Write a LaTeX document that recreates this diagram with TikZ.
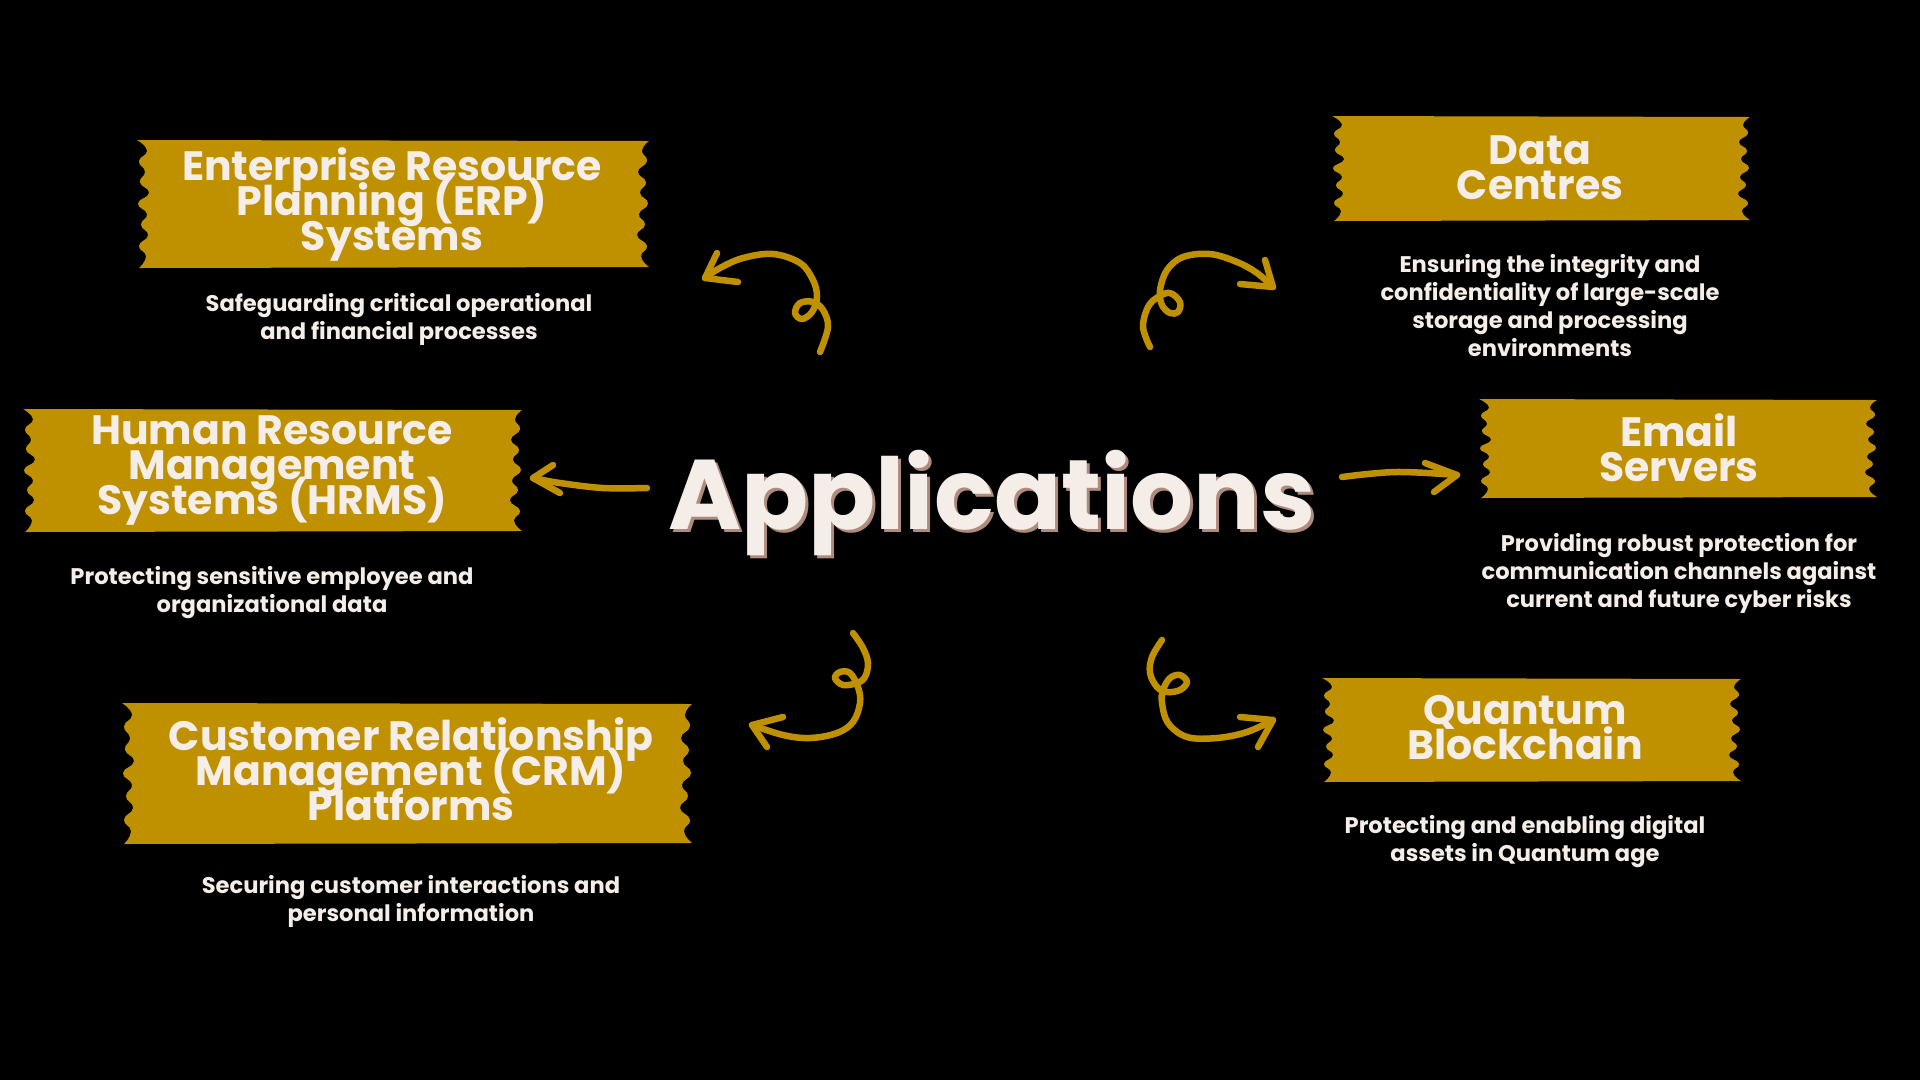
\documentclass[tikz,border=0pt]{standalone}
\usepackage{fontspec}
\setmainfont{Poppins}
\definecolor{gold}{HTML}{BF9000}
\definecolor{cream}{HTML}{F5EDE7}
\definecolor{shade}{HTML}{AE8B7D}
\newcommand\tightlines{\lineskiplimit=-100pt\relax\lineskip=0pt\relax}
\tikzset{
  tapefill/.style={fill=gold},
  bannertext/.style={text=cream, align=center, inner sep=0pt, font=\fontsize{41}{35}\selectfont\bfseries, execute at begin node=\tightlines},
  desc/.style={text=cream, align=center, inner sep=0pt, font=\fontsize{22.6}{28}\selectfont\bfseries, execute at begin node=\tightlines},
  titletext/.style={text=cream, inner sep=0pt, font=\fontsize{99}{100}\selectfont\bfseries},
  titleshadow/.style={text=shade, inner sep=0pt, font=\fontsize{99}{100}\selectfont\bfseries},
  arr/.style={draw=gold, line width=6.5pt, line cap=round, line join=round}
}
\newcommand\tape[4]{%
\fill[tapefill] (#1,#2) -- (#3,{#2+1})
 -- plot[smooth,tension=.9] coordinates {(#3,{#2+1}) ({#3-7},{#2+(#4-#2)/12}) ({#3-2},{#2+2*(#4-#2)/12}) ({#3-11},{#2+3*(#4-#2)/12}) ({#3-3},{#2+4*(#4-#2)/12}) ({#3-9},{#2+5*(#4-#2)/12}) ({#3-1},{#2+6*(#4-#2)/12}) ({#3-10},{#2+7*(#4-#2)/12}) ({#3-4},{#2+8*(#4-#2)/12}) ({#3-12},{#2+9*(#4-#2)/12}) ({#3-2},{#2+10*(#4-#2)/12}) ({#3-8},{#2+11*(#4-#2)/12}) (#3,#4)}
 -- ({#1+2},{#4+1})
 -- plot[smooth,tension=.9] coordinates {({#1+2},{#4+1}) ({#1+9},{#4-(#4-#2)/12}) ({#1+2},{#4-2*(#4-#2)/12}) ({#1+11},{#4-3*(#4-#2)/12}) ({#1+4},{#4-4*(#4-#2)/12}) ({#1+10},{#4-5*(#4-#2)/12}) ({#1+1},{#4-6*(#4-#2)/12}) ({#1+12},{#4-7*(#4-#2)/12}) ({#1+3},{#4-8*(#4-#2)/12}) ({#1+8},{#4-9*(#4-#2)/12}) ({#1+2},{#4-10*(#4-#2)/12}) ({#1+10},{#4-11*(#4-#2)/12}) (#1,#2)}
 -- cycle;}
\begin{document}
\begin{tikzpicture}[x=1pt,y=-1pt]
\fill[black] (0,0) rectangle (1920,1080);
\useasboundingbox (0,0) rectangle (1920,1080);

% tapes
\tape{137}{140}{649}{267}
\tape{1332}{116}{1750}{220}
\tape{23}{409}{522}{531}
\tape{1479}{399}{1877}{497}
\tape{122}{703}{692}{843}
\tape{1322}{678}{1741}{781}

% banner titles
\node[bannertext] (erp) at (392,205) {Enterprise Resource\\Planning (ERP)\\Systems};
\node[bannertext] (dc) at (1540,168) {Data\\Centres};
\node[bannertext] (hrms) at (272,471) {Human Resource\\Management\\Systems (HRMS)};
\node[bannertext] (email) at (1679,448) {Email\\Servers};
\node[bannertext] (crm) at (411,769) {Customer Relationship\\Management (CRM)\\Platforms};
\node[bannertext] (qb) at (1525,728) {Quantum\\Blockchain};

% descriptions
\node[desc] (erpd) at (399,319) {Safeguarding critical operational\\and financial processes};
\node[desc] (dcd) at (1550,306) {Ensuring the integrity and\\confidentiality of large-scale\\storage and processing\\environments};
\node[desc] (hrmsd) at (272,593) {Protecting sensitive employee and\\organizational data};
\node[desc] (emaild) at (1679,573) {Providing robust protection for\\communication channels against\\current and future cyber risks};
\node[desc] (crmd) at (411,901) {Securing customer interactions and\\personal information};
\node[desc] (qbd) at (1525,842) {Protecting and enabling digital\\assets in Quantum age};

% central title
\node[titleshadow, anchor=base] (appsh) at (995,532) {Applications};
\node[titletext, anchor=base] (app) at (992,529) {Applications};

% arrow 1 (to ERP)
\coordinate (t1) at (705,278);
\draw[arr] plot[smooth,tension=.6] coordinates {(820,352) (828,327) (823,310) (813,302) (800,303) (795,313) (802,319) (812,312) (817,297) (813,280) (800,263) (773,254) (743,258) (720,268) (t1)};
\draw[arr] (717,253) -- (t1) -- (738,282);

% arrow 2 (to Data Centres)
\coordinate (t2) at (1273,287);
\draw[arr] plot[smooth,tension=.6] coordinates {(1150,347) (1143,327) (1148,307) (1158,297) (1170,293) (1180,302) (1178,312) (1170,313) (1162,305) (1160,290) (1167,270) (1183,257) (1210,254) (1237,262) (1257,273) (t2)};
\draw[arr] (1265,260) -- (t2) -- (1240,284);

% arrow 3 (to HRMS)
\coordinate (t3) at (533,478);
\draw[arr] plot[smooth,tension=.6] coordinates {(647,488) (603,488) (560,483) (t3)};
\draw[arr] (553,465) -- (t3) -- (560,493);

% arrow 4 (to Email)
\coordinate (t4) at (1457,475);
\draw[arr] plot[smooth,tension=.6] coordinates {(1342,477) (1396,472) (t4)};
\draw[arr] (1425,463) -- (t4) -- (1434,492);

% arrow 5 (to CRM)
\coordinate (t5) at (752,725);
\draw[arr] plot[smooth,tension=.6] coordinates {(853,633) (863,648) (868,663) (865,677) (857,683) (843,685) (835,678) (840,672) (850,673) (858,687) (860,703) (853,722) (837,733) (810,738) (783,735) (t5)};
\draw[arr] (783,717) -- (t5) -- (767,747);

% arrow 6 (to Quantum Blockchain)
\coordinate (t6) at (1273,720);
\draw[arr] plot[smooth,tension=.6] coordinates {(1162,640) (1152,657) (1150,673) (1157,687) (1167,692) (1180,690) (1187,682) (1180,675) (1170,678) (1163,690) (1162,703) (1168,723) (1187,737) (1217,738) (1247,732) (t6)};
\draw[arr] (1240,717) -- (t6) -- (1258,747);
\end{tikzpicture}
\end{document}
